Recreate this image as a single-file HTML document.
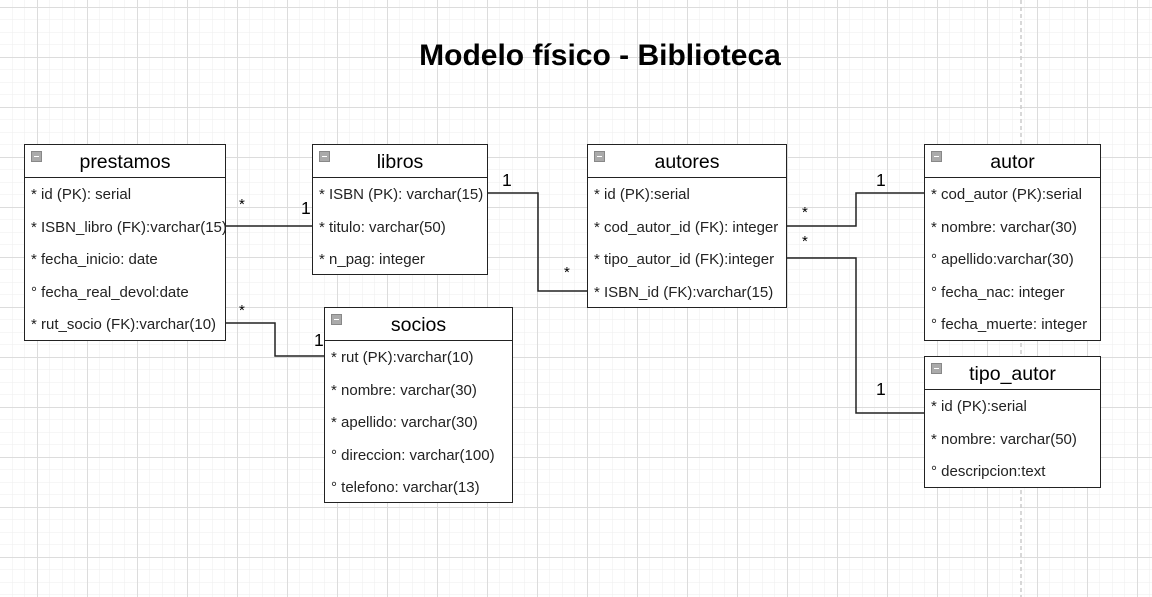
<!DOCTYPE html>
<html><head><meta charset="utf-8"><style>
html,body{margin:0;padding:0;}
body{width:1152px;height:597px;position:relative;overflow:hidden;background:#fff;font-family:"Liberation Sans",Arial,sans-serif;color:#000;}
.t{position:absolute;background:#fff;border:1.5px solid #222;box-sizing:border-box;}
.h{height:32px;border-bottom:1.5px solid #222;text-align:center;font-size:19.5px;line-height:35px;position:relative;}
.h i{position:absolute;left:6px;top:6px;width:9px;height:9px;background:#aaa;border:1px solid #888;}
.h i:after{content:"";position:absolute;left:2px;top:4px;width:5px;height:1px;background:#fff;}
.r{height:32.5px;line-height:34px;font-size:15px;padding-left:6px;white-space:nowrap;overflow:hidden;color:#222;}
.l{position:absolute;font-size:17.5px;}
.s{position:absolute;font-size:15px;}
</style></head><body>
<svg width="1152" height="597" style="position:absolute;left:0;top:0">
<defs>
<pattern id="g1" width="12.5" height="12.5" patternUnits="userSpaceOnUse" x="12" y="7">
<path d="M0 0H12.5M0 0V12.5" stroke="#eeeeee" stroke-width="1" fill="none"/></pattern>
<pattern id="g2" width="50" height="50" patternUnits="userSpaceOnUse" x="37" y="7">
<path d="M0 0.5H50M0.5 0V50" stroke="#dcdcdc" stroke-width="1" fill="none"/></pattern>
</defs>
<rect width="1152" height="597" fill="url(#g1)"/>
<rect width="1152" height="597" fill="url(#g2)"/>
<line x1="1021" y1="0" x2="1021" y2="597" stroke="#ccc" stroke-width="1.5" stroke-dasharray="4,3"/>
<g stroke="#222" stroke-width="1.5" fill="none">
<path d="M225 226H313"/>
<path d="M225 323H275V356H325"/>
<path d="M487 193H538V291H587"/>
<path d="M787 226H856V193H925"/>
<path d="M787 258H856V413H925"/>
</g>
</svg>
<div style="position:absolute;left:0;width:1200px;top:39px;text-align:center;font-size:30px;font-weight:bold;">Modelo físico - Biblioteca</div>

<div class="t" style="left:24px;top:144px;width:202px;height:197px;"><div class="h"><i></i>prestamos</div>
<div class="r">* id (PK): serial</div><div class="r">* ISBN_libro (FK):varchar(15)</div><div class="r">* fecha_inicio: date</div><div class="r">° fecha_real_devol:date</div><div class="r">* rut_socio (FK):varchar(10)</div></div>

<div class="t" style="left:312px;top:144px;width:176px;height:131px;"><div class="h"><i></i>libros</div>
<div class="r">* ISBN (PK): varchar(15)</div><div class="r">* titulo: varchar(50)</div><div class="r">* n_pag: integer</div></div>

<div class="t" style="left:587px;top:144px;width:200px;height:164px;"><div class="h"><i></i>autores</div>
<div class="r">* id (PK):serial</div><div class="r">* cod_autor_id (FK): integer</div><div class="r">* tipo_autor_id (FK):integer</div><div class="r">* ISBN_id (FK):varchar(15)</div></div>

<div class="t" style="left:924px;top:144px;width:177px;height:197px;"><div class="h"><i></i>autor</div>
<div class="r">* cod_autor (PK):serial</div><div class="r">* nombre: varchar(30)</div><div class="r">° apellido:varchar(30)</div><div class="r">° fecha_nac: integer</div><div class="r">° fecha_muerte: integer</div></div>

<div class="t" style="left:924px;top:356px;width:177px;height:132px;"><div class="h"><i></i>tipo_autor</div>
<div class="r">* id (PK):serial</div><div class="r">* nombre: varchar(50)</div><div class="r">° descripcion:text</div></div>

<div class="t" style="left:324px;top:307px;width:189px;height:196px;"><div class="h"><i></i>socios</div>
<div class="r">* rut (PK):varchar(10)</div><div class="r">* nombre: varchar(30)</div><div class="r">* apellido: varchar(30)</div><div class="r">° direccion: varchar(100)</div><div class="r">° telefono: varchar(13)</div></div>

<div class="s" style="left:239px;top:196px">*</div>
<div class="l" style="left:301px;top:198px">1</div>
<div class="s" style="left:239px;top:302px">*</div>
<div class="l" style="left:314px;top:330px">1</div>
<div class="l" style="left:502px;top:170px">1</div>
<div class="s" style="left:564px;top:264px">*</div>
<div class="s" style="left:802px;top:204px">*</div>
<div class="s" style="left:802px;top:233px">*</div>
<div class="l" style="left:876px;top:170px">1</div>
<div class="l" style="left:876px;top:379px">1</div>
</body></html>
